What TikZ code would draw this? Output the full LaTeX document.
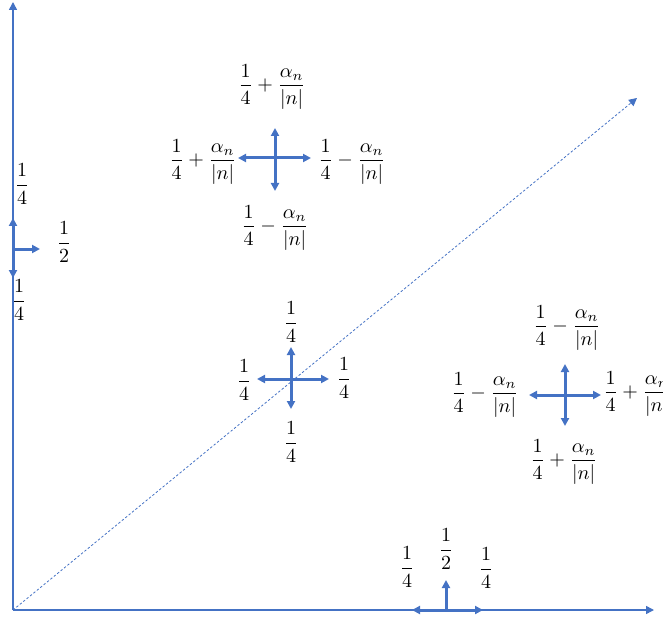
\documentclass[tikz,border=0pt]{standalone}
\usepackage{amsmath}
\usetikzlibrary{arrows.meta, positioning}
\definecolor{axisblue}{RGB}{68, 114, 196}

\begin{document}
\begin{tikzpicture}[
        x=0.5pt, y=-0.5pt,
        axis/.style={-{Triangle[length=4pt, width=4pt]}, line width=0.75pt, color=axisblue},
        diag/.style={-{Triangle[length=4pt, width=4pt]}, line width=0.4pt, color=axisblue,
            dash pattern=on 1.2pt off 1pt},
        move/.style={{Triangle[length=4pt, width=4pt]}-{Triangle[length=4pt, width=4pt]},
            line width=1.5pt, color=axisblue},
        onestep/.style={-{Triangle[length=4pt, width=4pt]}, line width=1.5pt, color=axisblue},
        prob/.style={inner sep=0pt, font=\normalsize}
        ]
        \useasboundingbox (0,0) rectangle (663,620);

        % axes and diagonal
        \coordinate (o) at (13,610);
        \coordinate (ytip) at (13,2);
        \coordinate (xtip) at (654,610);
        \coordinate (dtip) at (637,98);
        \draw[axis] (o) -- (ytip);
        \draw[axis] (o) -- (xtip);
        \draw[diag] (o) -- (dtip);

        % walk on the vertical axis
        \coordinate (ya) at (13,218);
        \coordinate (yb) at (13,278);
        \coordinate (yc) at (13,249);
        \coordinate (yr) at (40,249);
        \draw[move] (ya) -- (yb);
        \draw[onestep] (yc) -- (yr);
        \node[prob] (yup) at (22,184) {$\dfrac{1}{4}$};
        \node[prob] (yright) at (64,242) {$\dfrac{1}{2}$};
        \node[prob] (ydown) at (19,300) {$\dfrac{1}{4}$};

        % walk on the horizontal axis
        \coordinate (xa) at (412,610);
        \coordinate (xb) at (483,610);
        \coordinate (xc) at (446,610);
        \coordinate (xu) at (446,580);
        \draw[move] (xa) -- (xb);
        \draw[onestep] (xc) -- (xu);
        \node[prob] (xleft) at (407,567) {$\dfrac{1}{4}$};
        \node[prob] (xup) at (446,549) {$\dfrac{1}{2}$};
        \node[prob] (xright) at (486,568) {$\dfrac{1}{4}$};

        % walk on the diagonal
        \coordinate (dl) at (257,379);
        \coordinate (dr) at (329,379);
        \coordinate (du) at (291,347);
        \coordinate (dd) at (291,409);
        \draw[move] (dl) -- (dr);
        \draw[move] (du) -- (dd);
        \node[prob] (dup) at (291,322) {$\dfrac{1}{4}$};
        \node[prob] (dleft) at (244,380) {$\dfrac{1}{4}$};
        \node[prob] (dright) at (344,378) {$\dfrac{1}{4}$};
        \node[prob] (ddown) at (291,442) {$\dfrac{1}{4}$};

        % walk above the diagonal
        \coordinate (al) at (238,158);
        \coordinate (ar) at (311,158);
        \coordinate (au) at (275,128);
        \coordinate (ad) at (275,191);
        \draw[move] (al) -- (ar);
        \draw[move] (au) -- (ad);
        \node[prob] (aup) at (272,87) {$\dfrac{1}{4}+\dfrac{\alpha_n}{|n|}$};
        \node[prob] (aleft) at (203,162) {$\dfrac{1}{4}+\dfrac{\alpha_n}{|n|}$};
        \node[prob] (aright) at (352,162) {$\dfrac{1}{4}-\dfrac{\alpha_n}{|n|}$};
        \node[prob] (adown) at (275,228) {$\dfrac{1}{4}-\dfrac{\alpha_n}{|n|}$};

        % walk below the diagonal
        \coordinate (bl) at (529,395);
        \coordinate (br) at (601,395);
        \coordinate (bu) at (565,364);
        \coordinate (bd) at (565,426);
        \draw[move] (bl) -- (br);
        \draw[move] (bu) -- (bd);
        \node[prob] (bup) at (567,328) {$\dfrac{1}{4}-\dfrac{\alpha_n}{|n|}$};
        \node[prob] (bleft) at (485,395) {$\dfrac{1}{4}-\dfrac{\alpha_n}{|n|}$};
        \node[prob] (bright) at (637,394) {$\dfrac{1}{4}+\dfrac{\alpha_n}{|n|}$};
        \node[prob] (bdown) at (564,462) {$\dfrac{1}{4}+\dfrac{\alpha_n}{|n|}$};
    \end{tikzpicture}
\end{document}
